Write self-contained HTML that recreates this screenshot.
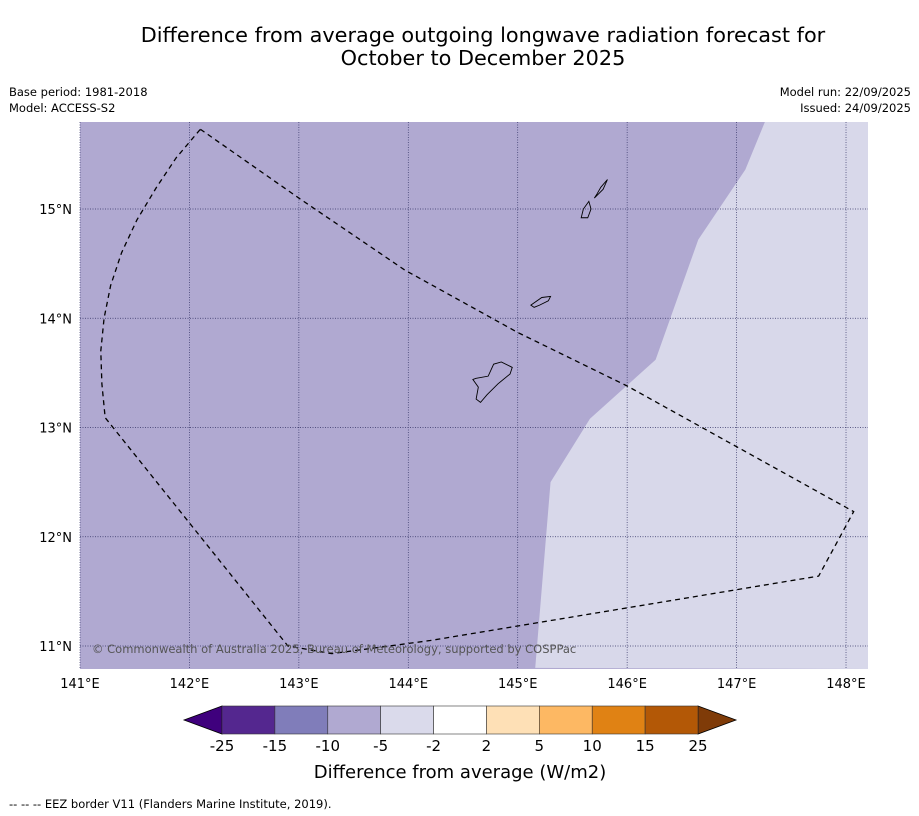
<!DOCTYPE html>
<html><head><meta charset="utf-8">
<style>
body{margin:0;background:#fff;font-family:"DejaVu Sans",sans-serif;}
#wrap{position:relative;width:919px;height:816px;overflow:hidden;}
</style></head>
<body>
<div id="wrap">
<svg id="svg" width="919" height="816" xmlns="http://www.w3.org/2000/svg" font-family="DejaVu Sans, sans-serif">
<text x="483" y="42" text-anchor="middle" font-size="20.8">Difference from average outgoing longwave radiation forecast for</text>
<text x="483" y="65" text-anchor="middle" font-size="20.8">October to December 2025</text>
<text x="9" y="96" font-size="11.5">Base period: 1981-2018</text>
<text x="9" y="112" font-size="11.5">Model: ACCESS-S2</text>
<text x="911" y="96" font-size="11.5" text-anchor="end">Model run: 22/09/2025</text>
<text x="911" y="112" font-size="11.5" text-anchor="end">Issued: 24/09/2025</text>
<g id="map"></g>
<g id="cbar"></g>
<text x="460" y="778" text-anchor="middle" font-size="18">Difference from average (W/m2)</text>
<text x="9" y="808" font-size="11.5">--  --  -- EEZ border V11 (Flanders Marine Institute, 2019).</text>
</svg>
</div>
<script>
const lonTicks=[141,142,143,144,145,146,147,148];
const latTicks=[11,12,13,14,15];
const cbLevels=["-25","-15","-10","-5","-2","2","5","10","15","25"];
const cbColors=["#54278f","#807dba","#b0a9d1","#dadaeb","#ffffff","#fee0b6","#fdb863","#e08214","#b35806"];
const lowColor="#3f007d", highColor="#7f3b08";
const lightBoundary=[[147.26,15.8],[147.08,15.36],[146.65,14.72],[146.26,13.62],[145.66,13.08],[145.3,12.5],[145.16,10.8]];
const eez=[[142.1,15.73],[143.0,15.1],[143.97,14.44],[145.0,13.87],[146.0,13.38],[148.07,12.23],[147.75,11.64],[144.2,11.05],[143.3,10.93],[142.9,11.0],[141.23,13.09],[141.2,13.4],[141.19,13.7],[141.22,14.0],[141.28,14.3],[141.38,14.6],[141.52,14.9],[141.7,15.2],[141.88,15.47],[142.1,15.73]];
const guam=[[144.62,13.45],[144.73,13.47],[144.78,13.58],[144.85,13.6],[144.95,13.55],[144.93,13.49],[144.82,13.4],[144.72,13.3],[144.66,13.23],[144.62,13.26],[144.64,13.37],[144.59,13.44]];
const rota=[[145.12,14.12],[145.22,14.19],[145.3,14.2],[145.28,14.16],[145.2,14.12],[145.15,14.1]];
const tinian=[[145.6,15.0],[145.65,15.07],[145.67,15.0],[145.64,14.92],[145.58,14.92]];
const saipan=[[145.7,15.1],[145.78,15.18],[145.82,15.27],[145.76,15.2],[145.72,15.13]];
const NS="http://www.w3.org/2000/svg";
const X0=80,X1=868,Y0=122,Y1=669;
const x=l=>80+(l-141)*109.43, y=a=>646-(a-11)*109.25;
function el(p,t,a){const e=document.createElementNS(NS,t);for(const k in a)e.setAttribute(k,a[k]);p.appendChild(e);return e;}
const map=document.getElementById('map');
const cp=el(map,'clipPath',{id:'clp'});el(cp,'rect',{x:X0,y:Y0,width:X1-X0,height:Y1-Y0});
const bg=el(map,'rect',{x:X0,y:Y0,width:X1-X0,height:Y1-Y0,fill:'#b0a9d1'});


let d='M'+lightBoundary.map(p=>x(p[0])+','+y(p[1])).join('L')+'L'+X1+','+Y1+'L'+X1+','+Y0+'Z';
const lr=el(map,'path',{d:d,fill:'#d8d8ea','clip-path':'url(#clp)'});


lonTicks.forEach(l=>{const g=el(map,'line',{x1:x(l),x2:x(l),y1:Y0,y2:Y1,stroke:'#333366','stroke-width':0.7,'stroke-dasharray':'1,1.5'});

const t=el(map,'text',{x:x(l),y:688,'text-anchor':'middle','font-size':13});t.textContent=l+'°E';
});
latTicks.forEach(a=>{const g=el(map,'line',{x1:X0,x2:X1,y1:y(a),y2:y(a),stroke:'#333366','stroke-width':0.7,'stroke-dasharray':'1,1.5'});

const t=el(map,'text',{x:72,y:y(a)+5,'text-anchor':'end','font-size':13});t.textContent=a+'°N';
});
[guam,rota,tinian,saipan].forEach((isl,i)=>{const p=el(map,'path',{d:'M'+isl.map(q=>x(q[0])+','+y(q[1])).join('L')+'Z',fill:'none',stroke:'#000','stroke-width':0.9});
});
const ez=el(map,'path',{d:'M'+eez.map(q=>x(q[0])+','+y(q[1])).join('L'),fill:'none',stroke:'#000','stroke-width':1.3,'stroke-dasharray':'5,4','clip-path':'url(#clp)'});

const cr=el(map,'text',{x:92,y:653,'font-size':11.5,fill:'#555'});cr.textContent='© Commonwealth of Australia 2025, Bureau of Meteorology, supported by COSPPac';

const cb=document.getElementById('cbar');
const CX0=222,CW=(698-222)/cbColors.length,CY=706,CH=28;
const lt=el(cb,'path',{d:`M${CX0},${CY}L184,${CY+CH/2}L${CX0},${CY+CH}Z`,fill:lowColor,stroke:'#000','stroke-width':0.8});

const rt=el(cb,'path',{d:`M698,${CY}L736,${CY+CH/2}L698,${CY+CH}Z`,fill:highColor,stroke:'#000','stroke-width':0.8});

cbColors.forEach((c,i)=>{const r=el(cb,'rect',{x:CX0+i*CW,y:CY,width:CW,height:CH,fill:c,stroke:'#333','stroke-width':0.6});
});
cbLevels.forEach((s,i)=>{const t=el(cb,'text',{x:CX0+i*CW,y:751,'text-anchor':'middle','font-size':15});t.textContent=s;
});
</script>
</body></html>
